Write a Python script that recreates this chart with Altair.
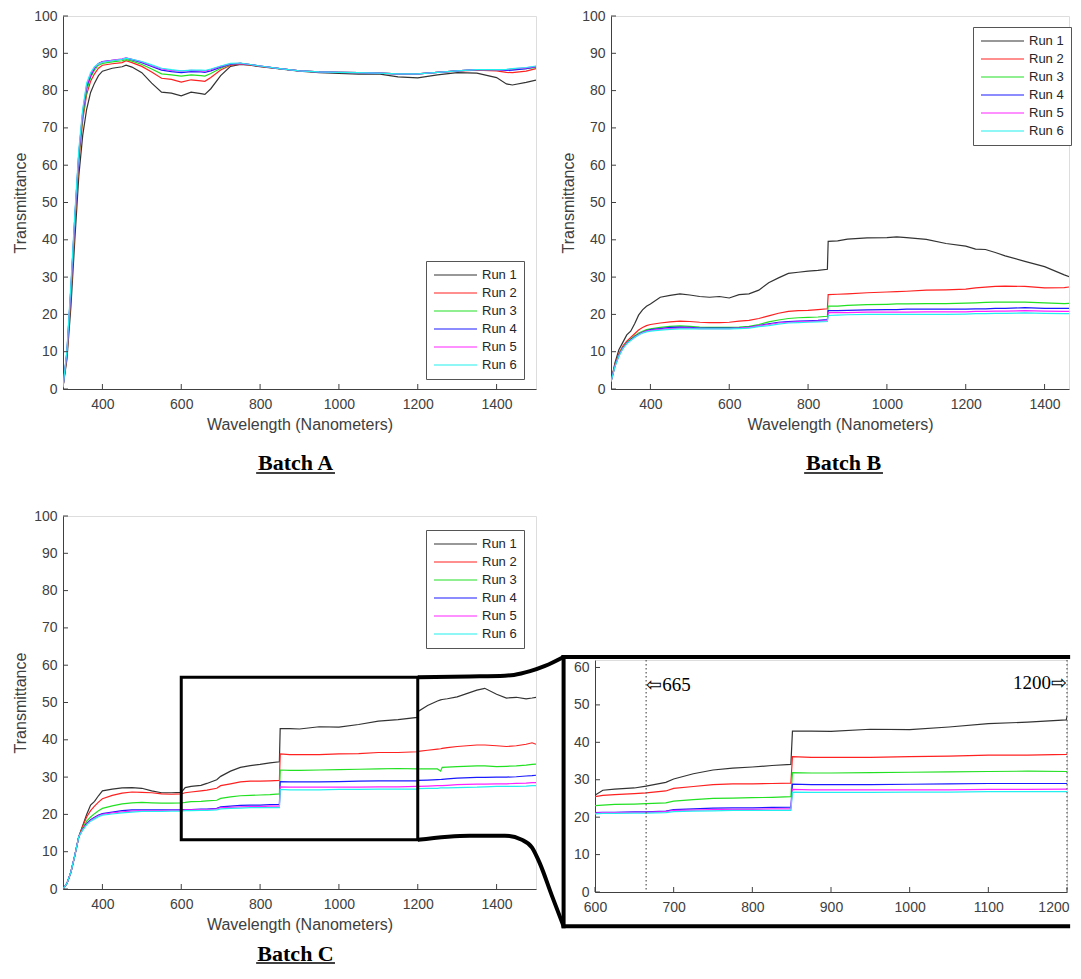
import altair as alt
import pandas as pd

RUNS = ["Run 1", "Run 2", "Run 3", "Run 4", "Run 5", "Run 6"]
COLORS = ["#333333", "#ff2020", "#22e022", "#1a1aff", "#ff22ff", "#22f0f0"]

X_TICKS = [400, 600, 800, 1000, 1200, 1400]
Y_TICKS = [0, 10, 20, 30, 40, 50, 60, 70, 80, 90, 100]
INSET_X_TICKS = [600, 700, 800, 900, 1000, 1100, 1200]
INSET_Y_TICKS = [0, 10, 20, 30, 40, 50, 60]

# ---------------- Batch A ----------------
WL_A = [300, 310, 320, 330, 340, 350, 360, 370, 380, 390, 400, 425, 450, 460, 475,
        500, 525, 550, 575, 600, 625, 650, 660, 675, 700, 725, 750, 775, 800, 850,
        900, 950, 1000, 1050, 1100, 1150, 1200, 1250, 1300, 1350, 1400, 1425, 1440, 1475, 1500]
A1 = [0.5, 8, 22, 40, 57, 68, 75, 79.5, 82, 84, 85.2, 86, 86.4, 86.8, 86.3,
      84.8, 82, 79.6, 79.3, 78.6, 79.6, 79.2, 79, 80.5, 84, 86.5, 87, 86.8, 86.4, 85.8,
      85.2, 84.8, 84.6, 84.4, 84.5, 83.7, 83.4, 84.2, 84.8, 84.7, 83.5, 81.8, 81.5, 82.2, 82.8]
A2 = [0.5, 9, 25, 44, 61, 72, 79, 82.5, 84.5, 86, 86.8, 87.2, 87.5, 88, 87.5,
      86.5, 85, 83.3, 83, 82.3, 82.9, 82.6, 82.5, 83.5, 85.5, 86.8, 87.1, 86.9, 86.5, 85.9,
      85.3, 85, 84.9, 84.8, 84.7, 84.5, 84.5, 84.9, 85.2, 85.5, 85.3, 84.9, 84.8, 85.2, 85.9]
A3 = [0.5, 9.5, 26, 45, 62, 73, 80, 83.5, 85.5, 86.8, 87.3, 87.7, 88, 88.3, 87.9,
      87, 85.8, 84.5, 84.2, 83.9, 84.2, 84, 83.9, 84.6, 86, 87, 87.3, 87, 86.6, 85.9,
      85.3, 85, 84.9, 84.8, 84.7, 84.5, 84.5, 84.9, 85.3, 85.6, 85.6, 85.6, 85.7, 85.9, 86.2]
A4 = [0.5, 10, 27, 46, 63, 74, 81, 84, 86, 87.3, 87.8, 88.1, 88.4, 88.7, 88.3,
      87.5, 86.5, 85.5, 85.1, 84.8, 85.1, 85, 84.9, 85.3, 86.3, 87.1, 87.3, 87, 86.6, 85.9,
      85.3, 85, 84.9, 84.8, 84.7, 84.5, 84.5, 84.9, 85.3, 85.6, 85.6, 85.4, 85.5, 85.9, 86.4]
A5 = [0.5, 10, 27, 46, 63, 74.5, 81.5, 84.3, 86.2, 87.2, 87.7, 88.1, 88.5, 88.8, 88.4,
      87.7, 86.7, 85.8, 85.4, 85.2, 85.4, 85.3, 85.2, 85.6, 86.5, 87.2, 87.3, 87, 86.6, 85.9,
      85.3, 85, 84.9, 84.8, 84.7, 84.5, 84.5, 84.9, 85.3, 85.6, 85.6, 85.6, 85.8, 86.1, 86.5]
A6 = [0.5, 10.5, 28, 47, 64, 75, 82, 84.8, 86.4, 87.2, 87.6, 88, 88.4, 88.7, 88.4,
      87.8, 86.9, 86, 85.6, 85.3, 85.5, 85.5, 85.4, 85.8, 86.6, 87.3, 87.4, 87, 86.6, 85.9,
      85.3, 85, 84.9, 84.8, 84.7, 84.5, 84.5, 84.9, 85.3, 85.6, 85.6, 85.7, 85.9, 86.2, 86.6]

# ---------------- Batch B ----------------
WL_B = [300, 310, 320, 330, 340, 350, 360, 370, 380, 390, 400,
        425, 450, 475, 500, 525, 550, 575, 600, 625, 650, 675, 700, 725, 750, 775, 800, 825, 849,
        851, 875, 900, 950, 1000, 1025, 1050, 1100, 1150, 1200, 1225, 1250, 1275, 1300, 1350, 1400, 1450, 1500]
B1 = [2, 7, 10.5, 12.5, 14.5, 15.5, 17.5, 19.8, 21.2, 22.2, 22.8,
      24.6, 25.1, 25.5, 25.2, 24.8, 24.6, 24.8, 24.4, 25.3, 25.5, 26.5, 28.5, 29.8, 31, 31.3, 31.6, 31.8, 32.1,
      39.6, 39.7, 40.2, 40.5, 40.6, 40.8, 40.6, 40.1, 39, 38.3, 37.5, 37.4, 36.6, 35.7, 34.2, 32.8, 30.6, 28.6]
B2 = [2, 6.5, 9.5, 11.5, 12.8, 13.8, 14.8, 15.8, 16.5, 17, 17.3,
      17.7, 18, 18.2, 18.1, 17.9, 17.8, 17.8, 17.9, 18.2, 18.4, 18.9, 19.6, 20.3, 20.8, 21, 21.1, 21.3, 21.5,
      25.3, 25.4, 25.5, 25.8, 26.0, 26.1, 26.2, 26.5, 26.6, 26.8, 27.1, 27.3, 27.5, 27.6, 27.5, 27.1, 27.2, 27.8]
B3 = [2, 6.3, 9.2, 11.2, 12.5, 13.4, 14.3, 15, 15.5, 15.9, 16.1,
      16.5, 16.8, 16.9, 16.8, 16.6, 16.5, 16.5, 16.5, 16.6, 16.8, 17.3, 18, 18.5, 18.9, 19.1, 19.2, 19.3, 19.5,
      22.2, 22.2, 22.4, 22.6, 22.7, 22.8, 22.8, 22.9, 22.9, 23.0, 23.1, 23.2, 23.3, 23.3, 23.3, 23.1, 22.9, 23.1]
B4 = [2, 6.2, 9.0, 11.0, 12.3, 13.2, 14.0, 14.7, 15.2, 15.6, 15.9,
      16.2, 16.5, 16.6, 16.5, 16.3, 16.3, 16.3, 16.3, 16.4, 16.6, 17.0, 17.5, 17.9, 18.1, 18.2, 18.3, 18.4, 18.6,
      21.0, 21.0, 21.1, 21.2, 21.3, 21.3, 21.4, 21.4, 21.4, 21.4, 21.5, 21.5, 21.6, 21.6, 21.8, 21.6, 21.6, 21.7]
B5 = [2, 6.1, 8.9, 10.9, 12.2, 13.1, 13.9, 14.6, 15.1, 15.5, 15.7,
      16.0, 16.2, 16.3, 16.3, 16.2, 16.2, 16.2, 16.2, 16.3, 16.5, 16.9, 17.3, 17.7, 17.9, 18.0, 18.1, 18.2, 18.3,
      20.5, 20.5, 20.5, 20.6, 20.6, 20.6, 20.6, 20.7, 20.7, 20.7, 20.8, 20.8, 20.9, 20.9, 21.0, 20.9, 20.8, 20.9]
B6 = [2, 6.0, 8.8, 10.8, 12.1, 13.0, 13.8, 14.5, 15.0, 15.3, 15.5,
      15.8, 16.0, 16.1, 16.1, 16.1, 16.1, 16.1, 16.1, 16.2, 16.3, 16.7, 17.0, 17.4, 17.7, 17.8, 17.9, 18.0, 18.1,
      19.7, 19.8, 19.9, 20.0, 20.0, 20.0, 20.0, 20.0, 20.0, 20.1, 20.2, 20.2, 20.3, 20.3, 20.4, 20.3, 20.2, 20.2]

# ---------------- Batch C ----------------
WL_C = [300, 310, 320, 330, 340, 350, 360, 370, 380, 390, 400,
        425, 450, 475, 500, 525, 550, 575, 600,
        610, 625, 650, 665, 690, 700, 725, 750, 775, 800, 825, 849,
        851, 875, 900, 950, 1000, 1050, 1100, 1150, 1199,
        1201, 1225, 1250, 1258, 1262, 1275, 1300, 1350, 1370, 1400, 1425, 1450, 1475, 1490, 1500]
C1 = [0, 1.5, 4.5, 9, 14, 17, 20, 22.5, 23.5, 25, 26.3,
      26.8, 27.1, 27.2, 27.0, 26.3, 25.8, 25.8, 25.9,
      27.2, 27.5, 27.8, 28.3, 29.3, 30.2, 31.6, 32.6, 33.1, 33.4, 33.8, 34.1,
      43.0, 43.0, 42.9, 43.5, 43.4, 44.1, 45.0, 45.4, 46.0,
      47.6, 49.2, 50.4, 50.7, 50.8, 51.0, 51.5, 53.3, 53.8, 52.2, 51.2, 51.4, 51.0, 51.2, 51.4]
C2 = [0, 1.5, 4.5, 9, 14, 16.8, 19.3, 21, 22.2, 23.3, 24.2,
      25.1, 25.7, 26.0, 25.9, 25.8, 25.5, 25.4, 25.5,
      25.8, 26.0, 26.3, 26.5, 27.0, 27.7, 28.2, 28.7, 28.9, 28.9, 29.0, 29.1,
      36.2, 36.0, 36.0, 36.0, 36.2, 36.3, 36.6, 36.6, 36.8,
      36.9, 37.2, 37.5, 37.6, 37.7, 37.9, 38.2, 38.6, 38.6, 38.4, 38.2, 38.4, 38.8, 39.2, 38.8]
C3 = [0, 1.5, 4.5, 9, 14, 16.3, 18.2, 19.3, 20.2, 21, 21.6,
      22.3, 22.8, 23.1, 23.2, 23.1, 23.0, 23.0, 23.1,
      23.2, 23.4, 23.5, 23.6, 23.8, 24.3, 24.7, 25.0, 25.1, 25.2, 25.3, 25.5,
      31.9, 31.8, 31.8, 31.9, 32.0, 32.1, 32.2, 32.3, 32.2,
      32.2, 32.2, 32.2, 31.6, 32.6, 32.7, 32.8, 33.0, 33.0, 32.8, 32.9, 33.0, 33.2, 33.4, 33.5]
C4 = [0, 1.5, 4.5, 9, 14, 16.0, 17.6, 18.6, 19.2, 19.8, 20.2,
      20.6, 21.0, 21.2, 21.2, 21.2, 21.2, 21.2, 21.2,
      21.3, 21.3, 21.4, 21.4, 21.6, 22.0, 22.2, 22.4, 22.5, 22.5, 22.6, 22.7,
      28.8, 28.7, 28.7, 28.7, 28.8, 28.9, 29.0, 29.0, 29.0,
      29.1, 29.2, 29.3, 29.35, 29.4, 29.5, 29.7, 29.9, 29.9, 30.0, 30.0, 30.1, 30.3, 30.4, 30.5]
C5 = [0, 1.5, 4.5, 9, 14, 15.9, 17.4, 18.4, 19.0, 19.6, 20.0,
      20.4, 20.7, 20.9, 21.0, 21.0, 21.0, 21.1, 21.1,
      21.2, 21.2, 21.3, 21.3, 21.5, 21.8, 21.9, 22.0, 22.1, 22.1, 22.2, 22.2,
      27.4, 27.3, 27.3, 27.3, 27.3, 27.3, 27.4, 27.4, 27.5,
      27.5, 27.6, 27.7, 27.7, 27.7, 27.8, 28.0, 28.1, 28.1, 28.2, 28.2, 28.3, 28.4, 28.5, 28.5]
C6 = [0, 1.5, 4.5, 9, 14, 15.8, 17.2, 18.2, 18.8, 19.4, 19.8,
      20.1, 20.4, 20.6, 20.8, 20.8, 20.8, 20.9, 20.9,
      21.0, 21.0, 21.1, 21.1, 21.2, 21.5, 21.6, 21.7, 21.8, 21.8, 21.8, 21.8,
      26.7, 26.6, 26.6, 26.6, 26.7, 26.7, 26.8, 26.8, 26.8,
      26.9, 27.0, 27.0, 27.1, 27.1, 27.1, 27.2, 27.3, 27.4, 27.5, 27.5, 27.5, 27.6, 27.7, 27.7]

# ---------------- annotations ----------------
TITLES = ["Batch A", "Batch B", "Batch C"]
TITLE_T = [(-19.8, -22.5), (-19.8, -22.5), (-17.3, -19.85)]   # text / underline level
ZOOM_BOX = {"wl": 600, "wl2": 1200, "t": 13.2, "t2": 56.8}          # in Batch C units
FRAME_LEFT, FRAME_RIGHT, FRAME_BOTTOM, FRAME_TOP = 1570, 2850, -10.0, 62.2   # Batch C units
CONN_TOP_WL = [1200, 1332, 1421, 1444, 1485, 1523, 1570]
CONN_TOP_T = [56.8, 57.0, 57.2, 57.4, 58.4, 59.8, 62.2]
CONN_BOT_WL = [1200, 1332, 1421, 1464, 1490, 1510, 1540, 1570]
CONN_BOT_T = [13.2, 14.3, 14.3, 13.2, 11.1, 6.8, -1.7, -10.0]
INSET_MARKS = [665, 1200]
INSET_LABELS = ["\u21e6665", "1200\u21e8"]

GRAY = "#404040"
W, H = 473, 373
WB, B_MAX = 458, 1462
IW, IH = 472, 232


def make_df(wl, series):
    rows = []
    for run, vals in zip(RUNS, series):
        assert len(vals) == len(wl), run
        for i, (w, v) in enumerate(zip(wl, vals)):
            rows.append({"run": run, "wl": w, "t": v, "i": i})
    return pd.DataFrame(rows)


DF_A = make_df(WL_A, [A1, A2, A3, A4, A5, A6])
DF_B = make_df(WL_B, [B1, B2, B3, B4, B5, B6])
DF_C = make_df(WL_C, [C1, C2, C3, C4, C5, C6])

AXIS_STYLE = dict(domainColor=GRAY, domainWidth=1, tickSize=0, labelColor=GRAY,
                  labelFontSize=14, labelFont="Liberation Sans", titleColor=GRAY,
                  titleFont="Liberation Sans", titleFontSize=16, titleFontWeight="normal",
                  grid=False, labelFlush=False, labelOverlap=False)


def xenc(domain, ticks, title, field="wl"):
    return alt.X(f"{field}:Q", scale=alt.Scale(domain=domain, nice=False, zero=False),
                 axis=alt.Axis(values=ticks, format="d", title=title, labelPadding=8,
                               titlePadding=5, **AXIS_STYLE))


def yenc(domain, ticks, title, field="t"):
    return alt.Y(f"{field}:Q", scale=alt.Scale(domain=domain, nice=False, zero=False),
                 axis=alt.Axis(values=ticks, format="d", title=title, labelPadding=6,
                               titlePadding=5, **AXIS_STYLE))


def legend(lx, ly):
    return alt.Legend(title=None, orient="none", legendX=lx, legendY=ly,
                      symbolType="stroke", symbolSize=1849, symbolStrokeWidth=1.2,
                      clipHeight=14, rowPadding=4, labelFontSize=13,
                      labelFont="Liberation Sans", labelColor="#262626", labelOffset=4,
                      padding=7, strokeColor="#555555", fillColor="white", cornerRadius=0)


def panel(df, title, tpos, lx, ly, domain_x, xt, domain_y, yt, w, h, extra=()):
    X = lambda f="wl": xenc(domain_x, xt, "Wavelength (Nanometers)", f)
    Y = lambda f="t": yenc(domain_y, yt, "Transmittance", f)
    lines = alt.Chart(df).mark_line(strokeWidth=1.2, clip=True).encode(
        x=X(), y=Y(),
        color=alt.Color("run:N", scale=alt.Scale(domain=RUNS, range=COLORS),
                        legend=legend(lx, ly)),
        order=alt.Order("i:Q"))
    xt_layer = alt.Chart(pd.DataFrame({"wl": xt})).mark_rule(color=GRAY).encode(
        x=X(), y=alt.value(h), y2=alt.value(h - 5))
    yt_layer = alt.Chart(pd.DataFrame({"t": yt})).mark_rule(color=GRAY).encode(
        y=Y(), x=alt.value(0), x2=alt.value(5))
    tdf = pd.DataFrame({"wl": [890], "t": [tpos[0]], "label": [title]})
    ttl = alt.Chart(tdf).mark_text(font="Liberation Serif", fontWeight="bold", fontSize=22,
                                   color="black", baseline="middle", align="center").encode(
        x=X(), y=Y(), text="label:N")
    udf = pd.DataFrame({"wl": [790], "wl2": [990], "t": [tpos[1]]})
    und = alt.Chart(udf).mark_rule(color="black", strokeWidth=1.5).encode(
        x=X(), x2="wl2:Q", y=Y())
    layers = [lines, xt_layer, yt_layer, ttl, und] + [e(X, Y) for e in extra]
    return alt.layer(*layers).properties(width=w, height=h)


def zoom_box(X, Y):
    d = pd.DataFrame([ZOOM_BOX])
    return alt.Chart(d).mark_rect(fillOpacity=0, stroke="black", strokeWidth=3).encode(
        x=X(), x2="wl2:Q", y=Y(), y2="t2:Q")


def inset_frame_h(X, Y):
    d = pd.DataFrame({"wl": [FRAME_LEFT, FRAME_LEFT], "wl2": [FRAME_RIGHT, FRAME_RIGHT],
                      "t": [FRAME_BOTTOM, FRAME_TOP]})
    return alt.Chart(d).mark_rule(color="black", strokeWidth=4, strokeCap="square").encode(
        x=X(), x2="wl2:Q", y=Y())


def inset_frame_v(X, Y):
    d = pd.DataFrame({"wl": [FRAME_LEFT], "t": [FRAME_BOTTOM], "t2": [FRAME_TOP]})
    return alt.Chart(d).mark_rule(color="black", strokeWidth=4, strokeCap="square").encode(
        x=X(), y=Y(), y2="t2:Q")


def connectors(X, Y):
    rows = []
    for seg, (ws, ts) in enumerate([(CONN_TOP_WL, CONN_TOP_T), (CONN_BOT_WL, CONN_BOT_T)]):
        for i, (w, t) in enumerate(zip(ws, ts)):
            rows.append({"seg": seg, "i": i, "wl": w, "t": t})
    return alt.Chart(pd.DataFrame(rows)).mark_line(
        color="black", strokeWidth=4, interpolate="monotone").encode(
        x=X(), y=Y(), detail="seg:N", order="i:Q")


chart_a = panel(DF_A, TITLES[0], TITLE_T[0], 363, 245, [300, 1500], X_TICKS, [0, 100], Y_TICKS, W, H)
chart_b = panel(DF_B, TITLES[1], TITLE_T[1], 362, 11, [300, B_MAX], X_TICKS, [0, 100], Y_TICKS, WB, H)
chart_c = panel(DF_C, TITLES[2], TITLE_T[2], 363, 14, [300, 1500], X_TICKS, [0, 100], Y_TICKS, W, H,
                extra=(zoom_box, inset_frame_h, inset_frame_v, connectors))

# ---------------- inset ----------------
LAST_LABEL_ALIGN = {"condition": {"test": "datum.value == 1200", "value": "right"},
                    "value": "center"}
LAST_LABEL_OFFSET = {"condition": {"test": "datum.value == 1200", "value": 2}, "value": 0}
IX = lambda f="wl": alt.X(f"{f}:Q", scale=alt.Scale(domain=[600, 1200], nice=False, zero=False),
                          axis=alt.Axis(values=INSET_X_TICKS, format="d", title=None,
                                        labelPadding=8, labelAlign=LAST_LABEL_ALIGN,
                                        labelOffset=LAST_LABEL_OFFSET, **AXIS_STYLE))
IY = lambda f="t": alt.Y(f"{f}:Q", scale=alt.Scale(domain=[0, 62], nice=False, zero=False),
                         axis=alt.Axis(values=INSET_Y_TICKS, format="d", title=None,
                                       labelPadding=6, **AXIS_STYLE))
inset_lines = alt.Chart(DF_C).mark_line(strokeWidth=1.2, clip=True).encode(
    x=IX(), y=IY(),
    color=alt.Color("run:N", scale=alt.Scale(domain=RUNS, range=COLORS), legend=None),
    order=alt.Order("i:Q"))
inset_marks = alt.Chart(pd.DataFrame({"wl": INSET_MARKS})).mark_rule(
    color="#555555", strokeDash=[1.5, 2.5], strokeWidth=1.2).encode(
    x=IX(), y=alt.value(0), y2=alt.value(IH))
inset_text = alt.Chart(pd.DataFrame({"wl": INSET_MARKS, "t": [55.3, 55.8],
                                     "label": INSET_LABELS,
                                     "al": ["left", "right"]}))
inset_t1 = inset_text.transform_filter("datum.al == 'left'").mark_text(
    font="Liberation Serif", fontSize=19, color="black", align="left", baseline="middle").encode(
    x=IX(), y=IY(), text="label:N")
inset_t2 = inset_text.transform_filter("datum.al == 'right'").mark_text(
    font="Liberation Serif", fontSize=19, color="black", align="right", baseline="middle").encode(
    x=IX(), y=IY(), text="label:N")
inset_xt = alt.Chart(pd.DataFrame({"wl": INSET_X_TICKS})).mark_rule(color=GRAY).encode(
    x=IX(), y=alt.value(IH), y2=alt.value(IH - 5))
inset_yt = alt.Chart(pd.DataFrame({"t": INSET_Y_TICKS})).mark_rule(color=GRAY).encode(
    y=IY(), x=alt.value(0), x2=alt.value(5))
inset = alt.layer(inset_lines, inset_marks, inset_t1, inset_t2, inset_xt, inset_yt).properties(
    width=IW, height=IH)

spacer = alt.Chart(pd.DataFrame({"s": [""]})).mark_text(opacity=0).encode(
    text="s:N").properties(width=IW, height=144,
                           view=alt.ViewBackground(stroke=None, fill=None))

inset_col = alt.vconcat(spacer, inset, spacing=0, bounds="flush").resolve_scale(
    color="independent")
row1 = alt.hconcat(chart_a, chart_b, spacing=75, bounds="flush").resolve_scale(
    color="independent").resolve_legend(color="independent")
row2 = alt.hconcat(chart_c, inset_col, spacing=59, bounds="flush").resolve_scale(
    color="independent").resolve_legend(color="independent")

chart = alt.vconcat(row1, row2, spacing=33).resolve_scale(
    color="independent").resolve_legend(color="independent").properties(
    padding={"left": 4, "top": 0, "right": 0, "bottom": 0}
).configure_view(stroke=None).configure(font="Liberation Sans", background="white")

chart.save("out.html", embed_options={"renderer": "svg", "actions": False})
